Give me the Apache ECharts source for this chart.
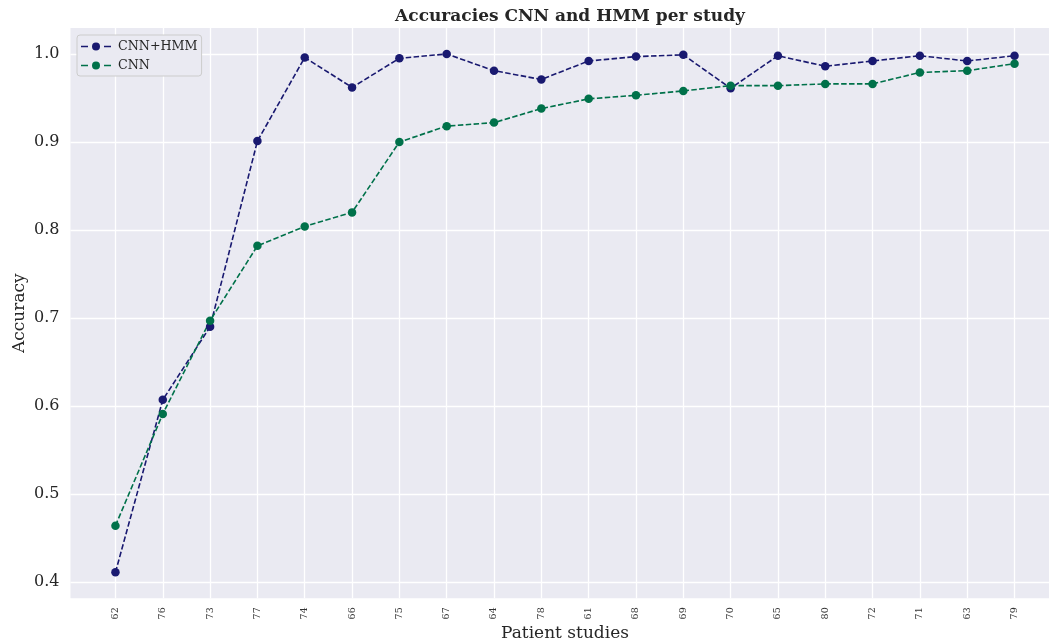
<!DOCTYPE html>
<html>
<head>
<meta charset="utf-8">
<script src="https://cdn.jsdelivr.net/npm/echarts@6/dist/echarts.min.js"></script>
<style>
  html, body { margin: 0; padding: 0; background: #ffffff; }
  #chart { width: 1049px; height: 642px; }
</style>
</head>
<body>
<div id="chart"></div>
<script>
// Patient study IDs, ordered by CNN accuracy
const studies = ['62','76','73','77','74','66','75','67','64','78','61','68','69','70','65','80','72','71','63','79'];

// Per-study accuracy of the CNN followed by an HMM
const cnnHmm = [0.411, 0.607, 0.690, 0.901, 0.996, 0.962, 0.995, 1.000, 0.981, 0.971,
                0.992, 0.997, 0.999, 0.961, 0.998, 0.986, 0.992, 0.998, 0.992, 0.998];

// Per-study accuracy of the CNN alone
const cnnOnly = [0.464, 0.591, 0.697, 0.782, 0.804, 0.820, 0.900, 0.918, 0.922, 0.938,
                 0.949, 0.953, 0.958, 0.964, 0.964, 0.966, 0.966, 0.979, 0.981, 0.989];

// Y tick values
const yTicks = [0.4, 0.5, 0.6, 0.7, 0.8, 0.9, 1.0];

const FONT = 'DejaVu Serif';
const TEXT = '#262626';
const NAVY = '#191970';
const GREEN = '#00714A';

const xIdx = studies.map((_, i) => i);
const toPoints = vals => vals.map((v, i) => [i, v]);

// legend glyph: dash, dot, dash
const legendIcon = 'path://M0,3.25h7v1.5h-7z M19,4A4,4 0 1,1 11,4A4,4 0 1,1 19,4z M23,3.25h7v1.5h-7z';

const chart = echarts.init(document.getElementById('chart'), null, { renderer: 'canvas' });

const lineSeries = (name, vals, color) => ({
  name: name,
  type: 'line',
  data: toPoints(vals),
  z: 3,
  symbol: 'circle',
  symbolSize: 8.5,
  showSymbol: true,
  itemStyle: { color: color },
  lineStyle: { color: color, width: 1.6, type: [5.5, 2.4] },
  emphasis: { disabled: true },
  animation: false
});

chart.setOption({
  animation: false,
  backgroundColor: '#ffffff',
  title: {
    text: 'Accuracies CNN and HMM per study',
    left: 565,
    top: 3,
    textAlign: 'center',
    textStyle: { fontFamily: FONT, fontSize: 17, fontWeight: 'bold', color: TEXT }
  },
  legend: {
    data: ['CNN+HMM', 'CNN'],
    orient: 'vertical',
    left: 77,
    top: 35,
    padding: [5, 4, 4, 4],
    itemGap: 6,
    itemWidth: 30,
    itemHeight: 8,
    icon: legendIcon,
    backgroundColor: '#EAEAF2',
    borderColor: '#cccccc',
    borderWidth: 1,
    borderRadius: 3,
    textStyle: { fontFamily: FONT, fontSize: 12.7, color: TEXT, padding: [0, 0, 0, 2] }
  },
  grid: {
    left: 70.5,
    right: -10.5,
    top: 28,
    bottom: 43.7,
    outerBoundsMode: 'none',
    containLabel: false,
    show: true,
    backgroundColor: '#EAEAF2',
    borderWidth: 0
  },
  xAxis: {
    type: 'value',
    min: -0.95,
    max: 19.95,
    name: 'Patient studies',
    nameLocation: 'middle',
    nameGap: 27,
    nameMoveOverlap: false,
    nameTextStyle: { fontFamily: FONT, fontSize: 17, color: TEXT },
    axisLine: { show: false },
    axisTick: { show: false },
    splitLine: { show: false },
    axisLabel: {
      customValues: xIdx,
      formatter: v => studies[Math.round(v)],
      rotate: 90,
      margin: 9,
      fontFamily: FONT,
      fontSize: 9.5,
      color: '#333333'
    }
  },
  yAxis: {
    type: 'value',
    min: 0.3815,
    max: 1.0295,
    name: 'Accuracy',
    nameLocation: 'middle',
    nameGap: 42,
    nameMoveOverlap: false,
    nameTextStyle: { fontFamily: FONT, fontSize: 17, color: TEXT },
    axisLine: { show: false },
    axisTick: { show: false },
    splitLine: { show: false },
    axisLabel: {
      customValues: yTicks,
      formatter: v => v.toFixed(1),
      margin: 11,
      fontFamily: FONT,
      fontSize: 16,
      color: TEXT
    }
  },
  series: [
    {
      // white grid lines drawn beneath the data
      name: 'grid',
      type: 'line',
      data: [],
      z: 0,
      silent: true,
      markLine: {
        silent: true,
        z: 0,
        symbol: ['none', 'none'],
        animation: false,
        label: { show: false },
        emphasis: { disabled: true },
        lineStyle: { color: '#ffffff', width: 1.3, type: 'solid' },
        data: xIdx.map(i => ({ xAxis: i })).concat(yTicks.map(v => ({ yAxis: v })))
      }
    },
    lineSeries('CNN+HMM', cnnHmm, NAVY),
    lineSeries('CNN', cnnOnly, GREEN)
  ]
});
</script>
</body>
</html>
